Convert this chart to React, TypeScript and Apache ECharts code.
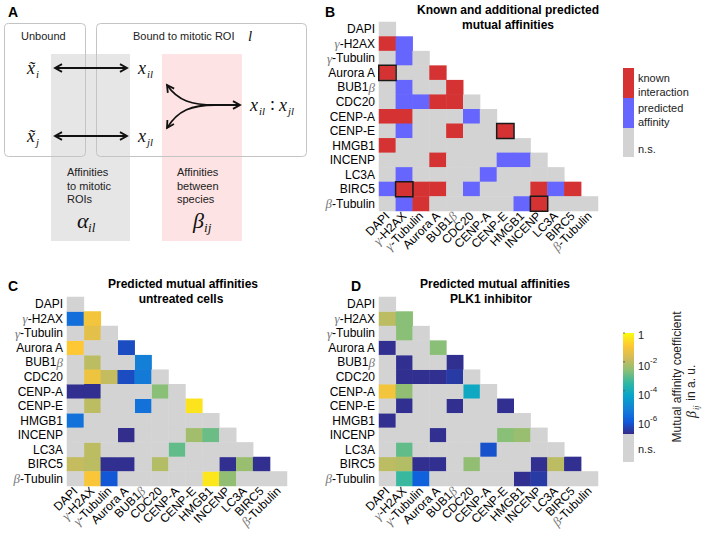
import React, { useEffect, useRef } from 'react';
import * as echarts from 'echarts';

const proteins = ['DAPI', 'γ-H2AX', 'γ-Tubulin', 'Aurora A', 'BUB1β', 'CDC20', 'CENP-A', 'CENP-E', 'HMGB1', 'INCENP', 'LC3A', 'BIRC5', 'β-Tubulin'];

// Panel B: K = known interaction, P = predicted affinity, N = n.s. (row i holds columns 0..i)
const knownPredictedRows = [
  'N', 'KP', 'NPN', 'KNNK', 'NPNNK', 'NPPKKN', 'KKNNNPN', 'NPNNKNNK', 'KNNNNNNNN',
  'NNNKNNNPPN', 'NPNNNNPNNNN', 'PKKKNPNNNKPK', 'NPKNNNNNPKNNN',
];
const boxedCells = [[3, 0], [7, 7], [11, 1], [12, 9]]; // [row, col]

// Panels C / D: log10 of mutual affinity coefficient, null = n.s.
const untreatedRows: (number | null)[][] = [
  [null],
  [-5.7, -1.1],
  [null, -1.4, null],
  [-0.9, null, null, -6.4],
  [null, -2.0, null, null, -5.3],
  [null, -1.2, -1.9, -6.4, -5.4, null],
  [-6.9, -6.9, null, null, null, -2.6, null],
  [null, -2.0, null, null, -5.6, null, null, -0.4],
  [-5.6, null, null, null, null, null, null, null, null],
  [null, null, null, -6.95, null, null, null, -2.3, -2.9, null],
  [null, -2.0, null, null, null, null, -3.0, null, null, null, null],
  [-1.9, -2.0, -6.9, -6.9, null, -2.1, null, null, null, -6.9, -2.4, -6.9],
  [null, -1.0, -6.2, null, null, null, null, null, -0.35, -2.5, null, null, null],
];
const plk1Rows: (number | null)[][] = [
  [null],
  [-2.0, -2.6],
  [null, -2.6, null],
  [-6.9, null, null, -2.6],
  [null, -6.9, null, null, -6.9],
  [null, -6.9, -6.9, -6.9, -6.7, null],
  [-1.1, -2.5, null, null, null, -4.2, null],
  [null, -6.9, null, null, -6.9, null, null, -6.9],
  [-6.9, null, null, null, null, null, null, null, null],
  [null, null, null, -6.9, null, null, null, -2.6, -2.4, null],
  [null, -3.0, null, null, null, null, -6.3, null, null, null, null],
  [-2.0, -2.1, -6.9, -6.9, null, -2.5, null, null, null, -6.9, -2.0, -6.9],
  [null, -3.4, -6.0, null, null, null, null, null, -6.9, -6.7, null, null, null],
];
const colorbarTicks = [0, -2, -4, -6];
const colorbarMin = -7;
const colorbarMax = 0;

const GREY = '#d3d3d3';
const RED = '#d53333';
const BLUE = '#6666ff';
const PARULA = ['#352A87', '#0F5CDD', '#1481D6', '#06A4CA', '#2EB7A4', '#87BF77', '#D1BB59', '#FEC832', '#F9FB0E'];
const SANS = 'Liberation Sans, Arial, sans-serif';
const SERIF = 'Liberation Serif, Times New Roman, serif';
const INK = '#111';

const codeValue: Record<string, number> = { N: 0, P: 1, K: 2 };

function buildB() {
  const out: number[][] = [];
  knownPredictedRows.forEach((row, r) => {
    row.split('').forEach((ch, c) => out.push([c, r, codeValue[ch]]));
  });
  return out;
}
function buildLog(rows: (number | null)[][]) {
  const out: number[][] = [];
  rows.forEach((row, r) => row.forEach((v, c) => { if (v !== null) out.push([c, r, v]); }));
  return out;
}
function buildNS(rows: (number | null)[][]) {
  const out: number[][] = [];
  rows.forEach((row, r) => row.forEach((v, c) => { if (v === null) out.push([c, r, 0]); }));
  return out;
}

function chevron(tx: number, ty: number, dx: number, dy: number, len = 8, spread = 0.5) {
  const n = Math.hypot(dx, dy);
  const bx = -dx / n, by = -dy / n;
  const rot = (a: number) => [tx + len * (bx * Math.cos(a) - by * Math.sin(a)), ty + len * (bx * Math.sin(a) + by * Math.cos(a))];
  return {
    type: 'polyline', silent: true,
    shape: { points: [rot(spread), [tx, ty], rot(-spread)] },
    style: { stroke: INK, lineWidth: 1.8, fill: null },
  };
}
function line(x1: number, y1: number, x2: number, y2: number) {
  return { type: 'line', silent: true, shape: { x1, y1, x2, y2 }, style: { stroke: INK, lineWidth: 1.8 } };
}
function txt(x: number, y: number, text: string, o: any = {}) {
  return {
    type: 'text', silent: true, x, y,
    style: { text, fontSize: 11, fontFamily: SANS, fill: '#222', align: 'left', verticalAlign: 'middle', ...o },
  };
}
function mvar(x: number, y: number, main: string, sub: string, size = 18) {
  return [
    txt(x, y, main, { fontFamily: SERIF, fontStyle: 'italic', fontSize: size, fill: INK }),
    txt(x + size * 0.5, y + size * 0.35, sub, { fontFamily: SERIF, fontStyle: 'italic', fontSize: size * 0.6, fill: INK }),
  ];
}

const labelFmt = (v: string) => v.replace('γ', '{g|γ}').replace('β', '{g|β}');
const richG = { g: { fontFamily: SERIF, fontStyle: 'italic', fontSize: 13, color: '#777' } };

function axes(gi: number) {
  return {
    x: {
      type: 'category', gridIndex: gi, data: proteins,
      axisLine: { show: false }, axisTick: { show: false }, splitLine: { show: false },
      axisLabel: { rotate: 45, interval: 0, margin: 3, fontSize: 12, color: '#000', fontFamily: SANS, formatter: labelFmt, rich: richG },
    },
    y: {
      type: 'category', gridIndex: gi, data: proteins, inverse: true,
      axisLine: { show: false }, axisTick: { show: false }, splitLine: { show: false },
      axisLabel: { interval: 0, margin: 4, fontSize: 12, color: '#000', fontFamily: SANS, formatter: labelFmt, rich: richG },
    },
  };
}

export default function App() {
  const ref = useRef<HTMLDivElement>(null);
  useEffect(() => {
    if (!ref.current) return;
    const chart = echarts.init(ref.current, undefined, { renderer: 'svg' });
    const ax = [axes(0), axes(1), axes(2)];

    const cbTop = 333, cbH = 101, cbX = 623, cbW = 11;
    const cbY = (v: number) => cbTop + ((colorbarMax - v) / (colorbarMax - colorbarMin)) * cbH;

    const graphics: any[] = [
      // Panel A
      { type: 'rect', silent: true, shape: { x: 51, y: 54, width: 79, height: 187 }, style: { fill: '#e6e6e6' } },
      { type: 'rect', silent: true, shape: { x: 162, y: 54, width: 80, height: 187 }, style: { fill: '#fde3e3' } },
      { type: 'rect', silent: true, shape: { x: 4.5, y: 23.5, width: 81, height: 133, r: 4 }, style: { fill: null, stroke: '#c4c4c4', lineWidth: 1 } },
      { type: 'rect', silent: true, shape: { x: 96.5, y: 23.5, width: 210, height: 133, r: 4 }, style: { fill: null, stroke: '#c4c4c4', lineWidth: 1 } },
      txt(21, 36, 'Unbound'),
      txt(133, 36, 'Bound to mitotic ROI'),
      txt(248, 36, 'l', { fontFamily: SERIF, fontStyle: 'italic', fontSize: 15, fill: INK }),
      ...mvar(27, 68, 'x̃', 'i'),
      ...mvar(27, 136, 'x̃', 'j'),
      ...mvar(138, 68, 'x', 'il'),
      ...mvar(138, 136, 'x', 'jl'),
      ...mvar(250, 105, 'x', 'il'),
      txt(270, 104, ':', { fontFamily: SERIF, fontSize: 18, fill: INK }),
      ...mvar(279, 105, 'x', 'jl'),
      line(55, 68, 127, 68), chevron(55, 68, -1, 0), chevron(127, 68, 1, 0),
      line(55, 136, 127, 136), chevron(55, 136, -1, 0), chevron(127, 136, 1, 0),
      { type: 'bezierCurve', silent: true, shape: { x1: 215, y1: 105, cpx1: 192, cpy1: 105, cpx2: 178, cpy2: 101, x2: 167, y2: 85 }, style: { stroke: INK, lineWidth: 1.8, fill: null } },
      chevron(167, 85, -11, -16),
      { type: 'bezierCurve', silent: true, shape: { x1: 215, y1: 105, cpx1: 192, cpy1: 105, cpx2: 178, cpy2: 110, x2: 167, y2: 128 }, style: { stroke: INK, lineWidth: 1.8, fill: null } },
      chevron(167, 128, -11, 18),
      line(205, 105, 239, 105), chevron(240, 105, 1, 0),
      txt(67, 172, 'Affinities'), txt(67, 186, 'to mitotic'), txt(67, 199, 'ROIs'),
      txt(177, 172, 'Affinities'), txt(177, 186, 'between'), txt(177, 199, 'species'),
      ...mvar(77, 220, 'α', 'il', 22),
      ...mvar(193, 220, 'β', 'ij', 22),
      // panel letters
      txt(8, 12, 'A', { fontSize: 14, fontWeight: 'bold', fill: '#000' }),
      txt(325, 12, 'B', { fontSize: 14, fontWeight: 'bold', fill: '#000' }),
      txt(8, 286, 'C', { fontSize: 14, fontWeight: 'bold', fill: '#000' }),
      txt(351, 286, 'D', { fontSize: 14, fontWeight: 'bold', fill: '#000' }),
      // titles
      txt(508, 10, 'Known and additional predicted', { fontSize: 12, fontWeight: 'bold', align: 'center', fill: '#000' }),
      txt(508, 25, 'mutual affinities', { fontSize: 12, fontWeight: 'bold', align: 'center', fill: '#000' }),
      txt(183, 284, 'Predicted mutual affinities', { fontSize: 12, fontWeight: 'bold', align: 'center', fill: '#000' }),
      txt(181, 299, 'untreated cells', { fontSize: 12, fontWeight: 'bold', align: 'center', fill: '#000' }),
      txt(495, 284, 'Predicted mutual affinities', { fontSize: 12, fontWeight: 'bold', align: 'center', fill: '#000' }),
      txt(491, 299, 'PLK1 inhibitor', { fontSize: 12, fontWeight: 'bold', align: 'center', fill: '#000' }),
      // legend B
      { type: 'rect', silent: true, shape: { x: 623, y: 68, width: 11, height: 30 }, style: { fill: RED } },
      { type: 'rect', silent: true, shape: { x: 623, y: 98, width: 11, height: 30 }, style: { fill: BLUE } },
      { type: 'rect', silent: true, shape: { x: 623, y: 128, width: 11, height: 29 }, style: { fill: GREY } },
      txt(638, 78, 'known'), txt(638, 92, 'interaction'),
      txt(638, 108, 'predicted'), txt(638, 122, 'affinity'),
      txt(638, 149, 'n.s.'),
      // colorbar D
      {
        type: 'rect', silent: true, shape: { x: cbX, y: cbTop, width: cbW, height: cbH },
        style: { fill: new echarts.graphic.LinearGradient(0, 0, 0, 1, PARULA.slice().reverse().map((c, i) => ({ offset: i / (PARULA.length - 1), color: c }))) },
      },
      { type: 'rect', silent: true, shape: { x: cbX, y: cbTop + cbH, width: cbW, height: 28 }, style: { fill: GREY } },
      txt(638, cbTop + cbH + 15, 'n.s.'),
      {
        type: 'group', x: 677, y: 377, rotation: Math.PI / 2,
        children: [{ type: 'text', silent: true, style: { text: 'Mutual affinity coefficient', fontSize: 12, fontFamily: SANS, fill: '#222', align: 'center', verticalAlign: 'middle' } }],
      },
      {
        type: 'group', x: 691, y: 392, rotation: Math.PI / 2,
        children: [
          { type: 'text', silent: true, x: -26, y: 0, style: { text: 'β', fontSize: 14, fontFamily: SERIF, fontStyle: 'italic', fill: '#222', align: 'left', verticalAlign: 'middle' } },
          { type: 'text', silent: true, x: -18, y: 5, style: { text: 'ij', fontSize: 8, fontFamily: SERIF, fontStyle: 'italic', fill: '#222', align: 'left', verticalAlign: 'middle' } },
          { type: 'text', silent: true, x: -12, y: 0, style: { text: ' in a. u.', fontSize: 12, fontFamily: SANS, fill: '#222', align: 'left', verticalAlign: 'middle' } },
        ],
      },
    ];
    colorbarTicks.forEach((v) => {
      const y = cbY(v);
      graphics.push({ type: 'line', silent: true, shape: { x1: cbX, y1: y, x2: cbX + 2, y2: y }, style: { stroke: '#555', lineWidth: 0.8 } });
      if (v === 0) graphics.push(txt(638, y + 2, '1'));
      else {
        graphics.push(txt(638, y + 4, '10'));
        graphics.push(txt(650, y - 1, String(v), { fontSize: 8 }));
      }
    });

    chart.setOption({
      animation: false,
      backgroundColor: '#fff',
      textStyle: { fontFamily: SANS },
      grid: [
        { left: 379, top: 22, width: 219, height: 189, outerBoundsMode: 'none' },
        { left: 67, top: 297, width: 220, height: 189, outerBoundsMode: 'none' },
        { left: 379, top: 297, width: 219, height: 189, outerBoundsMode: 'none' },
      ],
      xAxis: ax.map((a) => a.x),
      yAxis: ax.map((a) => a.y),
      visualMap: [
        {
          type: 'piecewise', seriesIndex: [0, 4, 5], show: false, dimension: 2,
          pieces: [{ value: 0, color: GREY }, { value: 1, color: BLUE }, { value: 2, color: RED }],
        },
        {
          type: 'piecewise', seriesIndex: 1, show: false, dimension: 2,
          pieces: [{ value: 1, color: 'rgba(0,0,0,0)' }],
        },
        {
          type: 'continuous', seriesIndex: [2, 3], show: false, dimension: 2,
          min: colorbarMin, max: colorbarMax, inRange: { color: PARULA },
        },
      ],
      series: [
        { type: 'heatmap', xAxisIndex: 0, yAxisIndex: 0, data: buildB(), silent: true, itemStyle: { borderWidth: 0 } },
        {
          type: 'heatmap', xAxisIndex: 0, yAxisIndex: 0, silent: true,
          data: boxedCells.map(([r, c]) => [c, r, 1]),
          itemStyle: { borderColor: '#1a1a1a', borderWidth: 1.5 },
        },
        { type: 'heatmap', xAxisIndex: 1, yAxisIndex: 1, data: buildLog(untreatedRows), silent: true },
        { type: 'heatmap', xAxisIndex: 2, yAxisIndex: 2, data: buildLog(plk1Rows), silent: true },
        { type: 'heatmap', xAxisIndex: 1, yAxisIndex: 1, data: buildNS(untreatedRows), silent: true },
        { type: 'heatmap', xAxisIndex: 2, yAxisIndex: 2, data: buildNS(plk1Rows), silent: true },
      ],
      graphic: { elements: graphics },
    });
    return () => chart.dispose();
  }, []);
  return <div ref={ref} style={{ position: 'absolute', left: 0, top: 0, width: 709, height: 538 }} />;
}
